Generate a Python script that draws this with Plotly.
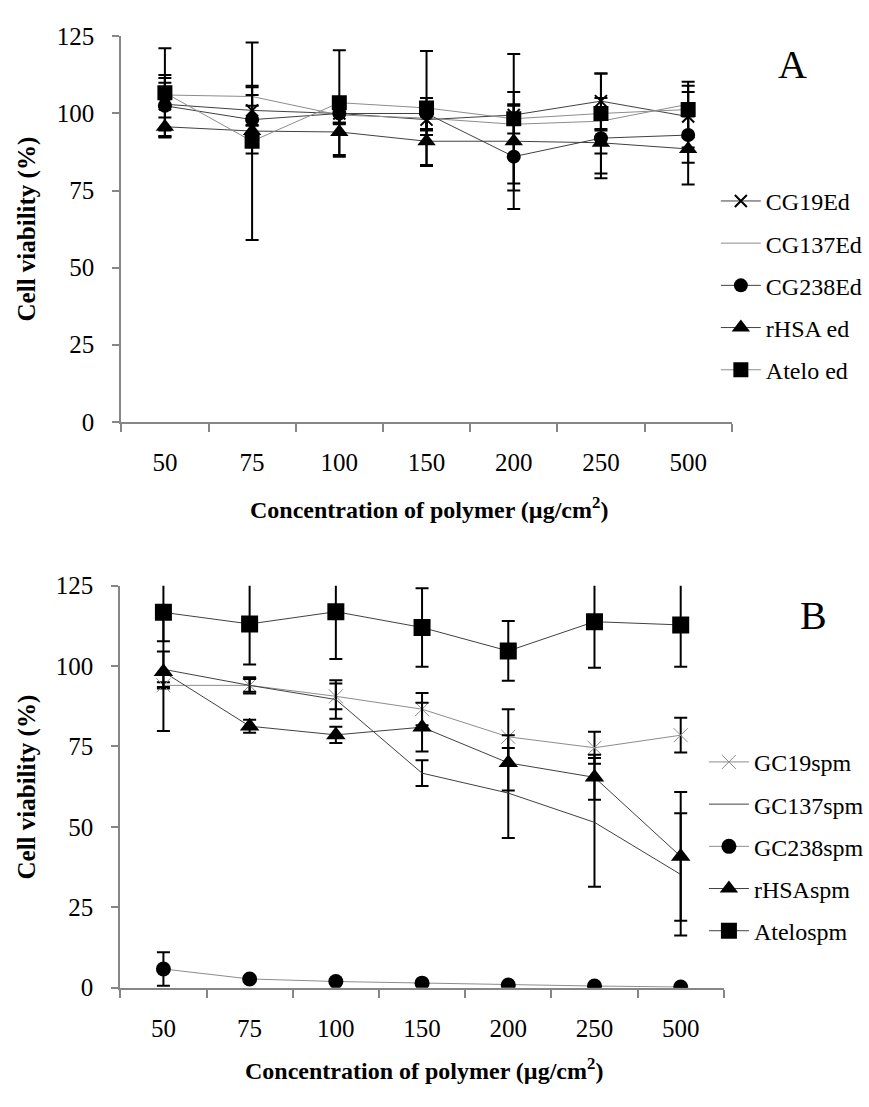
import plotly.graph_objects as go

# ---------------- data ----------------
categories = ["50", "75", "100", "150", "200", "250", "500"]

# Panel A (ed)
a_names = ["CG19Ed", "CG137Ed", "CG238Ed", "rHSA ed", "Atelo ed"]
a_cg19 = [103, 101, 100, 98, 99.5, 104, 99]
a_cg19_err = [8.5, 5, 3, 5, 3, 9, 10]
a_cg137 = [106, 105.5, 99.5, 98.5, 96.5, 97.5, 103]
a_cg137_err = [4, 3, 3, 4, 3, 3, 4]
a_cg238 = [102.5, 98, 100, 100, 86, 92, 93]
a_cg238_err = [10, 11, 3, 5, 17, 13, 9]
a_rhsa = [95.7, 94.3, 94, 91, 91, 90.5, 88.5]
a_rhsa_err = [3, 2, 8, 8, 16, 10, 11.5]
a_atelo = [106.7, 91, 103.5, 101.8, 98.3, 100, 101.3]
a_atelo_err = [14.5, 32, 17, 18.5, 21, 13, 9]

# Panel B (spm)
b_names = ["GC19spm", "GC137spm", "GC238spm", "rHSAspm", "Atelospm"]
b_gc19 = [94, 94, 90.6, 86.6, 78, 74.6, 78.5]
b_gc19_err = [1, 2.5, 4, 5, 8.6, 5, 5.4]
b_gc137 = [99, 94, 89.6, 66.7, 60.5, 51.4, 35.2]
b_gc137_err = [5.5, 2, 6, 4, 14, 20, 19]
b_gc238 = [5.8, 2.7, 1.9, 1.4, 0.8, 0.5, 0.2]
b_gc238_err = [5.2, 0.5, 0.3, 0.3, 0.3, 0.2, 0.1]
b_rhsa = [98.2, 81.3, 78.6, 81, 69.9, 65.4, 40.8]
b_rhsa_err = [18.4, 2, 2.5, 7.6, 8.6, 7, 20]
b_atelo = [116.7, 113.1, 116.9, 112, 104.7, 113.8, 112.8]
b_atelo_err = [9, 12.6, 14.7, 12.2, 9.3, 14.3, 13]

yticks = [0, 25, 50, 75, 100, 125]

# ---------------- figure ----------------
W, H = 869, 1107
FONT = "Liberation Serif, Times New Roman, serif"
AXC = "#868686"
DARK = "#404040"
GRAY = "#8c8c8c"

xidx = list(range(len(categories)))

fig = go.Figure()


def add(y, err, name, xa, ya, legend, symbol, msize, mcolor, lcolor, mline=0, mode="lines+markers"):
    fig.add_trace(go.Scatter(
        x=xidx, y=y, name=name, mode=mode,
        xaxis=xa, yaxis=ya, legend=legend, legendgroup=name + legend,
        line=dict(color=lcolor, width=1),
        marker=dict(symbol=symbol, size=msize, color=mcolor,
                    line=dict(color=mcolor, width=mline)),
        error_y=dict(type="data", array=err, visible=True, color="black",
                     thickness=2, width=6.5),
    ))


# Panel A
add(a_cg19, a_cg19_err, a_names[0], "x", "y", "legend", "x-thin", 12, "black", DARK, mline=2)
add(a_cg137, a_cg137_err, a_names[1], "x", "y", "legend", "circle", 1, GRAY, GRAY, mode="lines")
add(a_cg238, a_cg238_err, a_names[2], "x", "y", "legend", "circle", 14, "black", DARK)
add(a_rhsa, a_rhsa_err, a_names[3], "x", "y", "legend", "triangle-up", 16, "black", DARK)
add(a_atelo, a_atelo_err, a_names[4], "x", "y", "legend", "square", 15, "black", GRAY)

# Panel B
add(b_gc19, b_gc19_err, b_names[0], "x2", "y2", "legend2", "x-thin", 14, GRAY, GRAY, mline=1)
add(b_gc137, b_gc137_err, b_names[1], "x2", "y2", "legend2", "circle", 1, GRAY, DARK, mode="lines")
add(b_gc238, b_gc238_err, b_names[2], "x2", "y2", "legend2", "circle", 15, "black", GRAY)
add(b_rhsa, b_rhsa_err, b_names[3], "x2", "y2", "legend2", "triangle-up", 17, "black", DARK)
add(b_atelo, b_atelo_err, b_names[4], "x2", "y2", "legend2", "square", 17, "black", DARK)


def px_x(p):
    return p / W


def px_y(p):
    return 1 - p / H


def xaxis_cfg(x0, x1, anchor):
    return dict(
        domain=[px_x(x0), px_x(x1)], anchor=anchor,
        range=[-0.5, len(categories) - 0.5],
        tickmode="array", tickvals=xidx, ticktext=categories,
        ticks="outside", ticklen=17, tickcolor="rgba(0,0,0,0)",
        tickfont=dict(family=FONT, size=25, color="black"),
        showline=True, linecolor=AXC, linewidth=2,
        showgrid=False, zeroline=False,
        minor=dict(ticks="outside", tick0=-0.5, dtick=1, ticklen=8,
                   tickcolor=AXC, tickwidth=1.5, showgrid=False),
        fixedrange=True,
    )


def yaxis_cfg(y0, y1, anchor):
    return dict(
        domain=[px_y(y1), px_y(y0)], anchor=anchor,
        range=[0, 125], tickmode="array", tickvals=yticks,
        ticks="outside", ticklen=7, tickcolor=AXC, tickwidth=1.5,
        ticklabelstandoff=13,
        tickfont=dict(family=FONT, size=25, color="black"),
        showline=True, linecolor=AXC, linewidth=2,
        showgrid=False, zeroline=False, fixedrange=True,
    )


fig.update_layout(
    width=W, height=H,
    margin=dict(l=0, r=0, t=0, b=0),
    paper_bgcolor="white", plot_bgcolor="white",
    xaxis=xaxis_cfg(122, 736, "y"),
    yaxis=yaxis_cfg(24, 419, "x"),
    xaxis2=xaxis_cfg(121, 728, "y2"),
    yaxis2=yaxis_cfg(587, 999, "x2"),
    legend=dict(x=px_x(720), y=px_y(170), xanchor="left", yanchor="top",
                font=dict(family=FONT, size=24, color="black"),
                bgcolor="rgba(0,0,0,0)", tracegroupgap=8, itemwidth=40,
                traceorder="grouped"),
    legend2=dict(x=px_x(708), y=px_y(745), xanchor="left", yanchor="top",
                 font=dict(family=FONT, size=24, color="black"),
                 bgcolor="rgba(0,0,0,0)", tracegroupgap=8, itemwidth=40,
                 traceorder="grouped"),
    showlegend=True,
)

ann = []
title_x = "<b>Concentration of polymer (µg/cm<sup>2</sup>)</b>"
ann.append(dict(text=title_x, x=px_x(431), y=px_y(507)))
ann.append(dict(text=title_x, x=px_x(426), y=px_y(1082)))
for a in ann:
    a["font"] = dict(family=FONT, size=24, color="black")
for yc in (221, 793):
    ann.append(dict(text="<b>Cell viability (%)</b>", x=px_x(27), y=px_y(yc),
                    textangle=-90, font=dict(family=FONT, size=25, color="black")))
ann.append(dict(text="A", x=px_x(797), y=px_y(53),
                font=dict(family=FONT, size=40, color="black")))
ann.append(dict(text="B", x=px_x(818), y=px_y(618),
                font=dict(family=FONT, size=40, color="black")))
for a in ann:
    a.update(xref="paper", yref="paper", showarrow=False,
             xanchor="center", yanchor="middle")
fig.update_layout(annotations=ann)

fig.write_html("out.html")
